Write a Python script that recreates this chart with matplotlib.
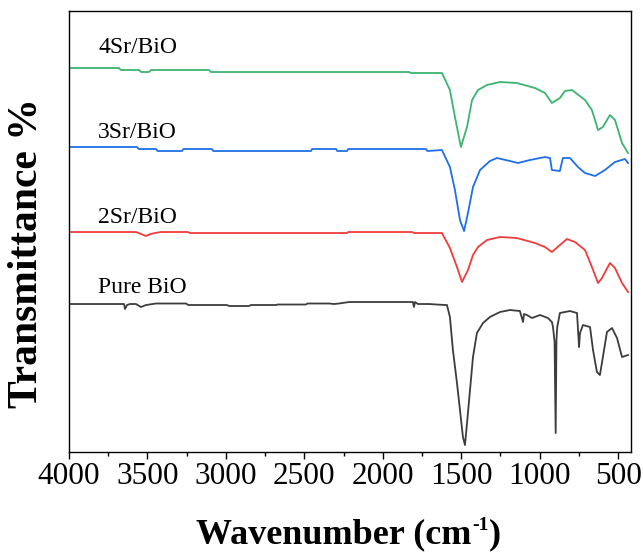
import matplotlib
matplotlib.use("Agg")
import matplotlib.pyplot as plt
from matplotlib.ticker import MultipleLocator

# FTIR spectra (wavenumber in cm-1, transmittance in arbitrary stacked units)
wn_4sr = [4000, 3681, 3670, 3554, 3540, 3490, 3477, 3108, 3095, 1833, 1820, 1623,
          1572, 1540, 1502, 1463, 1431, 1393, 1336, 1253, 1145, 1030, 966, 922,
          871, 839, 794, 711, 667, 628, 597, 552, 520, 475, 437]
t_4sr = [384, 384, 382, 382, 380, 380, 382, 382, 380, 380, 379, 379,
         362, 335, 305, 325, 352, 362, 367, 370, 369, 364, 359, 349,
         354, 361, 362, 352, 342, 322, 325, 337, 332, 309, 299]

wn_3sr = [4000, 3567, 3555, 3445, 3435, 3280, 3270, 3089, 3080, 2458, 2450, 2298,
          2290, 2228, 2220, 1725, 1715, 1623, 1572, 1540, 1508, 1482, 1457, 1425,
          1380, 1317, 1272, 1189, 1139, 1062, 966, 934, 922, 871, 852, 807, 756,
          711, 647, 584, 520, 456, 437]
t_3sr = [305, 305, 303, 303, 301, 301, 303, 303, 301, 301, 303, 303,
         301, 301, 303, 303, 301, 302, 285, 262, 232, 221, 239, 265,
         282, 291, 294, 291, 289, 292, 295, 294, 282, 281, 294, 294, 285,
         279, 276, 282, 290, 293, 289]

wn_2sr = [4000, 3573, 3509, 3480, 3452, 3414, 3242, 3230, 2228, 2220, 1814, 1800,
          1623, 1572, 1527, 1495, 1457, 1425, 1393, 1336, 1253, 1145, 1030, 966,
          922, 871, 826, 775, 711, 667, 628, 603, 552, 520, 475, 437]
t_2sr = [220, 220, 216, 218, 219, 220, 220, 219, 219, 220, 220, 219,
         219, 204, 185, 170, 182, 197, 205, 212, 215, 214, 209, 205,
         200, 207, 213, 210, 202, 185, 169, 174, 189, 184, 169, 160]

wn_pure = [4000, 3649, 3643, 3630, 3611, 3573, 3541, 3509, 3446, 3254, 3240, 2993,
           2980, 2853, 2840, 2681, 2670, 2490, 2480, 2343, 2311, 2279, 2215, 2018,
           1808, 1801, 1795, 1776, 1706, 1604, 1591, 1572, 1553, 1527, 1508, 1489,
           1476, 1463, 1444, 1425, 1400, 1361, 1317, 1253, 1189, 1126, 1106, 1100,
           1081, 1049, 998, 947, 922, 915, 905, 898, 893, 888, 871, 807, 762, 749,
           743, 724, 679, 660, 635, 616, 597, 571, 539, 507, 475, 437]
t_pure = [148, 148, 143, 147, 148, 148, 145, 147, 148.5, 148.5, 147, 147,
          146, 146, 147, 147, 147.5, 147.5, 148.5, 148.5, 148, 148.5, 150, 150,
          150, 145, 150, 148, 148, 147, 147, 135, 102, 69, 42, 15,
          7, 29, 62, 95, 119, 129, 135, 140, 142, 141, 130, 138,
          137, 134, 137, 134, 130, 125, 110, 19, 112, 125, 139, 141, 139, 105,
          119, 127, 125, 102, 80, 77, 95, 120, 124, 114, 95, 97]

names = ["4Sr/BiO", "3Sr/BiO", "2Sr/BiO", "Pure BiO"]
colors = ["#3cb371", "#1f6fe6", "#f03c3c", "#3c3c3c"]
label_y = [399, 314, 229, 159]

plt.rcParams["font.family"] = ["Liberation Serif", "DejaVu Serif"]

fig = plt.figure(figsize=(6.43, 5.53), dpi=100)
ax = fig.add_axes([0.1073, 0.1826, 0.874, 0.7975])

series = [(wn_4sr, t_4sr), (wn_3sr, t_3sr), (wn_2sr, t_2sr), (wn_pure, t_pure)]
for (wn, t), name, c, ly in zip(series, names, colors, label_y):
    ax.plot(wn, t, color=c, lw=1.3)
    ax.text(3815, ly, name, fontsize=17, ha="left", va="baseline")

ax.set_xlim(4000, 418)
ax.set_ylim(0, 441)
ax.xaxis.set_major_locator(MultipleLocator(500))
ax.xaxis.set_minor_locator(MultipleLocator(250))
ax.tick_params(axis="x", which="major", direction="out", length=5, width=1,
               labelsize=22.5, pad=2)
ax.tick_params(axis="x", which="minor", direction="out", length=3, width=1)
ax.set_yticks([])
for s in ax.spines.values():
    s.set_linewidth(1.0)

# y label
fig.text(27 / 643, 1 - 253 / 553, "Transmittance %", rotation=90, fontsize=30,
         fontweight="bold", ha="center", va="center")

# x label built from pieces so the superscript stays small
r = fig.canvas.get_renderer()
base_y = 1 - 543 / 553
W = fig.bbox.width
p1 = fig.text(0, base_y, "Wavenumber (cm", fontsize=26, fontweight="bold",
              va="baseline", ha="left")
w1 = p1.get_window_extent(r).width
p2 = fig.text(0, base_y + 13 / 553, "-1", fontsize=14, fontweight="bold",
              va="baseline", ha="left")
w2 = p2.get_window_extent(r).width
p3 = fig.text(0, base_y, ")", fontsize=26, fontweight="bold",
              va="baseline", ha="left")
w3 = p3.get_window_extent(r).width
start = 348 - (w1 + w2 + w3) / 2
p1.set_x(start / W)
p2.set_x((start + w1 + 1) / W)
p3.set_x((start + w1 + w2 + 1) / W)

fig.savefig("out.png", dpi=100)
